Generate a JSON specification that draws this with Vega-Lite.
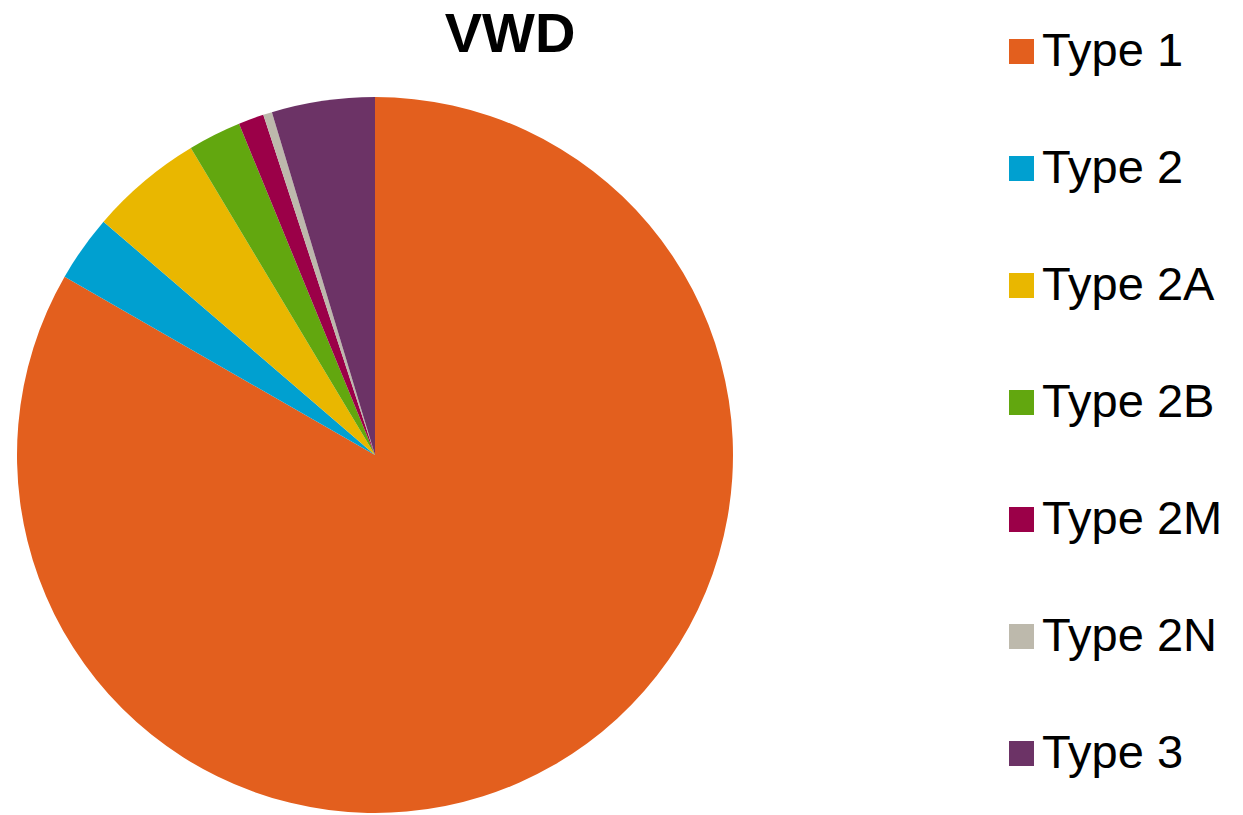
{
  "$schema": "https://vega.github.io/schema/vega-lite/v6.json",
  "autosize": {"type": "none"},
  "width": 750,
  "height": 910,
  "padding": {"left": 0, "top": 0, "right": 493, "bottom": 0},
  "background": "white",
  "title": {
    "text": "VWD",
    "font": "Liberation Sans",
    "fontSize": 56,
    "fontWeight": "bold",
    "color": "black",
    "anchor": "middle",
    "dx": 135,
    "offset": -64
  },
  "data": {
    "values": [
      {"type": "Type 1", "value": 83.3},
      {"type": "Type 2", "value": 3.0},
      {"type": "Type 2A", "value": 5.1},
      {"type": "Type 2B", "value": 2.4},
      {"type": "Type 2M", "value": 1.15},
      {"type": "Type 2N", "value": 0.4},
      {"type": "Type 3", "value": 4.65}
    ]
  },
  "mark": {"type": "arc", "outerRadius": 358, "stroke": null},
  "encoding": {
    "theta": {"field": "value", "type": "quantitative", "stack": true},
    "color": {
      "field": "type",
      "type": "nominal",
      "sort": ["Type 1", "Type 2", "Type 2A", "Type 2B", "Type 2M", "Type 2N", "Type 3"],
      "scale": {
        "domain": ["Type 1", "Type 2", "Type 2A", "Type 2B", "Type 2M", "Type 2N", "Type 3"],
        "range": ["#E35F1E", "#00A0D0", "#E9B700", "#62A70F", "#9B0048", "#BDB9AC", "#6C3366"]
      },
      "legend": {
        "title": null,
        "orient": "none",
        "legendX": 998,
        "legendY": 28,
        "symbolType": "square",
        "symbolSize": 625,
        "symbolStrokeWidth": 0,
        "labelFont": "Liberation Sans",
        "labelFontSize": 47,
        "labelColor": "black",
        "labelOffset": -3,
        "labelLimit": 400,
        "rowPadding": 69,
        "padding": 0
      }
    }
  },
  "config": {"view": {"stroke": null}}
}
